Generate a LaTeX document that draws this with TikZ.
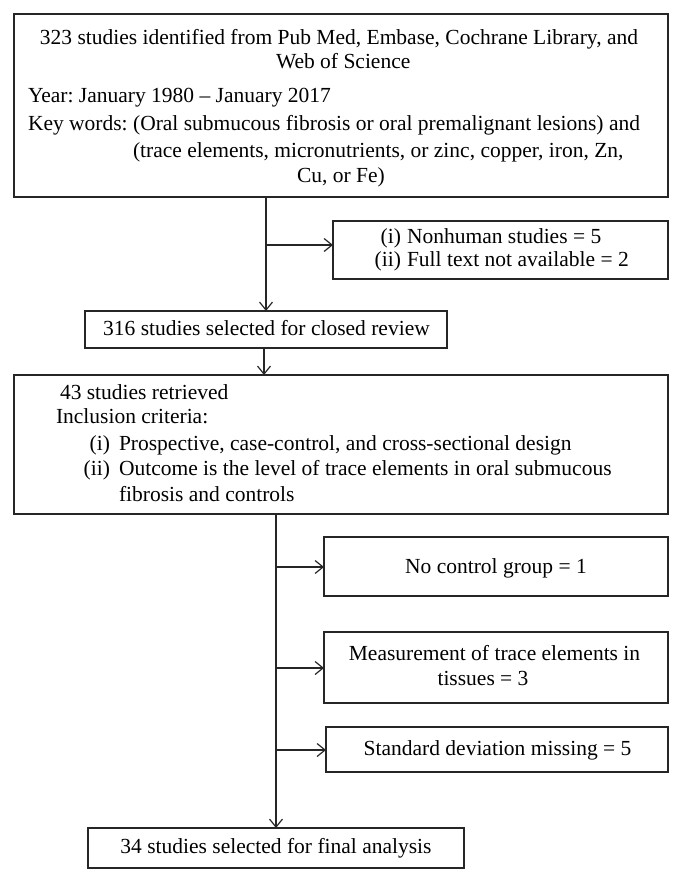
\documentclass[tikz,border=0pt]{standalone}
\usepackage{fontspec}
\setmainfont{Liberation Serif}
\usetikzlibrary{arrows.meta}
\frenchspacing
\begin{document}
\begin{tikzpicture}[x=1pt,y=-1pt,
  box/.style={draw=black!85,line width=1.2pt,rectangle,inner sep=0pt,outer sep=0pt,anchor=north west},
  txt/.style={inner sep=0pt,outer sep=0pt,font=\fontsize{21.5}{25}\selectfont\frenchspacing,text=black},
  tl/.style={txt,anchor=base west},
  tr/.style={txt,anchor=base east},
  tc/.style={txt,anchor=base},
  arr/.style={draw=black!85,line width=1.2pt,-{Straight Barb[length=8pt,width=13pt]}},
  ln/.style={draw=black!85,line width=1.2pt}
]
\useasboundingbox (0,0) rectangle (683,883);
\fill[white] (0,0) rectangle (683,883);

% boxes
\node[box,minimum width=654pt,minimum height=183pt] (b1) at (14,14) {};
\node[box,minimum width=335pt,minimum height=58pt] (b2) at (333,221) {};
\node[box,minimum width=362pt,minimum height=37pt] (b3) at (85,311) {};
\node[box,minimum width=654pt,minimum height=139pt] (b4) at (14,375) {};
\node[box,minimum width=344pt,minimum height=59pt] (b5) at (324,537) {};
\node[box,minimum width=344pt,minimum height=71pt] (b6) at (324,632) {};
\node[box,minimum width=342pt,minimum height=45pt] (b7) at (326,727) {};
\node[box,minimum width=376pt,minimum height=40pt] (b8) at (88,828) {};

% texts box 1
\node[tc] (t1a) at (339,45) {323 studies identified from Pub Med, Embase, Cochrane Library, and};
\node[tl] (t1b) at (276,68) {Web of Science};
\node[tl] (t1c) at (28,102) {Year: January 1980 – January 2017};
\node[tl] (t1d) at (28,130) {Key words: (Oral submucous fibrosis or oral premalignant lesions) and};
\node[tl] (t1e) at (133,157) {(trace elements, micronutrients, or zinc, copper, iron, Zn,};
\node[tl] (t1f) at (297,182) {Cu, or Fe)};

% box 2
\node[tr] (t2a) at (401,243) {(i)};
\node[tl] (t2b) at (407,243) {Nonhuman studies = 5};
\node[tr] (t2c) at (401,266) {(ii)};
\node[tl] (t2d) at (407,266) {Full text not available = 2};

% box 3
\node[tc] (t3) at (266.5,335) {316 studies selected for closed review};

% box 4
\node[tl] (t4a) at (60,399) {43 studies retrieved};
\node[tl] (t4b) at (56,423) {Inclusion criteria:};
\node[tr] (t4c) at (110,450) {(i)};
\node[tl] (t4d) at (119,450) {Prospective, case-control, and cross-sectional design};
\node[tr] (t4e) at (110,475) {(ii)};
\node[tl] (t4f) at (119,475) {Outcome is the level of trace elements in oral submucous};
\node[tl] (t4g) at (119,501) {fibrosis and controls};

% exclusion boxes
\node[tc] (t5) at (496,573) {No control group = 1};
\node[tc] (t6a) at (494.5,660) {Measurement of trace elements in};
\node[tc] (t6b) at (483,685) {tissues = 3};
\node[tc] (t7) at (497.5,755) {Standard deviation missing = 5};
\node[tc] (t8) at (276,853) {34 studies selected for final analysis};

% connectors
\coordinate (s1) at (266,197);
\coordinate (j1) at (266,245);
\draw[arr] (s1) -- (s1 |- b3.north);
\draw[arr] (j1) -- (j1 -| b2.west);
\coordinate (s2) at (264,348);
\draw[arr] (s2) -- (s2 |- b4.north);
\coordinate (s3) at (276,514);
\draw[arr] (s3) -- (s3 |- b8.north);
\coordinate (j2) at (276,567);
\coordinate (j3) at (276,668);
\coordinate (j4) at (276,750);
\draw[arr] (j2) -- (j2 -| b5.west);
\draw[arr] (j3) -- (j3 -| b6.west);
\draw[arr] (j4) -- (j4 -| b7.west);
\end{tikzpicture}
\end{document}
